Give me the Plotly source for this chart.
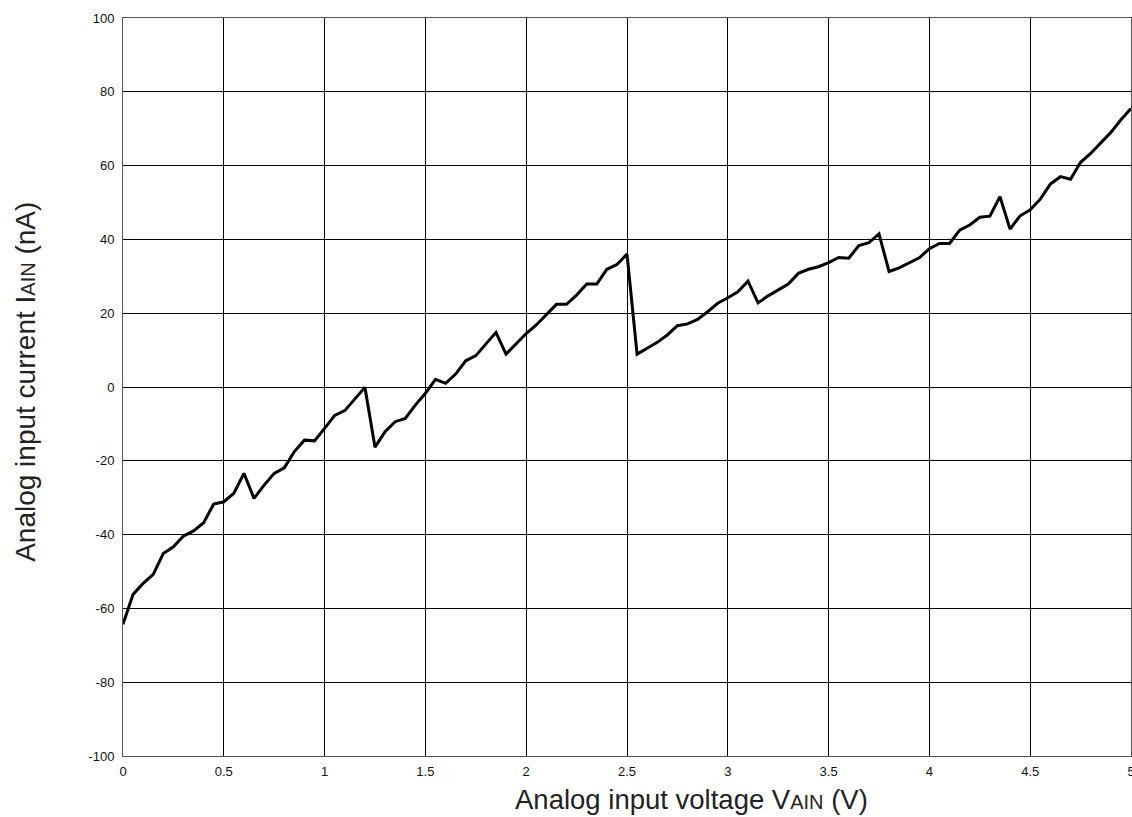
import plotly.graph_objects as go

voltage_v = [round(i * 0.05, 2) for i in range(101)]
current_na = [
    -64.3, -56.2, -53.2, -50.8, -45.1, -43.3, -40.4, -39.0, -36.8, -31.7,
    -31.1, -28.8, -23.4, -30.2, -26.6, -23.4, -21.9, -17.5, -14.4, -14.6,
    -11.2, -7.7, -6.4, -3.1, -0.1, -16.3, -12.1, -9.4, -8.5, -4.9,
    -1.7, 2.1, 1.0, 3.5, 7.1, 8.5, 11.7, 14.8, 8.9, 11.8,
    14.5, 16.8, 19.5, 22.4, 22.4, 24.9, 27.9, 27.9, 31.9, 33.2,
    36.0, 8.9, 10.5, 12.1, 14.1, 16.6, 17.1, 18.3, 20.4, 22.7,
    24.2, 25.8, 28.7, 22.8, 24.7, 26.3, 27.9, 30.8, 31.9, 32.6,
    33.7, 35.1, 34.9, 38.3, 39.1, 41.5, 31.3, 32.3, 33.7, 35.0,
    37.5, 38.9, 38.9, 42.5, 43.9, 46.0, 46.3, 51.6, 42.8, 46.4,
    48.0, 50.9, 55.0, 57.0, 56.3, 60.9, 63.3, 66.2, 69.0, 72.4,
    75.5,
]

x_ticks = [0, 0.5, 1, 1.5, 2, 2.5, 3, 3.5, 4, 4.5, 5]
x_tick_labels = ["0", "0.5", "1", "1.5", "2", "2.5", "3", "3.5", "4", "4.5", "5"]
y_ticks = [-100, -80, -60, -40, -20, 0, 20, 40, 60, 80, 100]
y_tick_labels = ["-100", "-80", "-60", "-40", "-20", "0", "20", "40", "60", "80", "100"]
x_title = "Analog input voltage V<span style='font-size:20px'>AIN</span> (V)"
y_title = "Analog input current I<span style='font-size:20px'>AIN</span> (nA)"

fig = go.Figure()
fig.add_trace(go.Scatter(
    x=voltage_v, y=current_na, mode="lines",
    line=dict(color="black", width=3),
    hoverinfo="x+y", showlegend=False,
))

axis_common = dict(
    showgrid=True, gridcolor="black", gridwidth=1, automargin=False,
    zeroline=False, showline=True, linecolor="#555555", linewidth=1, mirror=True,
    ticks="", ticklabeloverflow="allow",
    tickfont=dict(family="Liberation Sans, Arial", size=13, color="#111111"),
)

fig.update_layout(
    width=1132, height=817,
    margin=dict(l=123, r=1, t=18, b=61),
    paper_bgcolor="white", plot_bgcolor="white",
    font=dict(family="Liberation Sans, Arial", color="#222222"),
    xaxis=dict(range=[0, 5], tickvals=x_ticks, ticktext=x_tick_labels,
               ticklabelstandoff=3, **axis_common),
    yaxis=dict(range=[-100, 100], tickvals=y_ticks, ticktext=y_tick_labels,
               ticklabelstandoff=5, **axis_common),
    annotations=[
        dict(text=x_title, xref="paper", yref="paper", x=0.564, y=-0.0585,
             xanchor="center", yanchor="middle", showarrow=False,
             font=dict(size=27.5, color="#222222")),
        dict(text=y_title, xref="paper", yref="paper", x=-0.0962, y=0.507,
             xanchor="center", yanchor="middle", textangle=-90, showarrow=False,
             font=dict(size=28, color="#222222")),
    ],
)

# Remove the page's default body margin and scrollbars so the figure fills the window.
fig.write_html(
    "out.html",
    config={"displayModeBar": False},
    post_script="document.body.style.margin='0';document.body.style.overflow='hidden';",
)
